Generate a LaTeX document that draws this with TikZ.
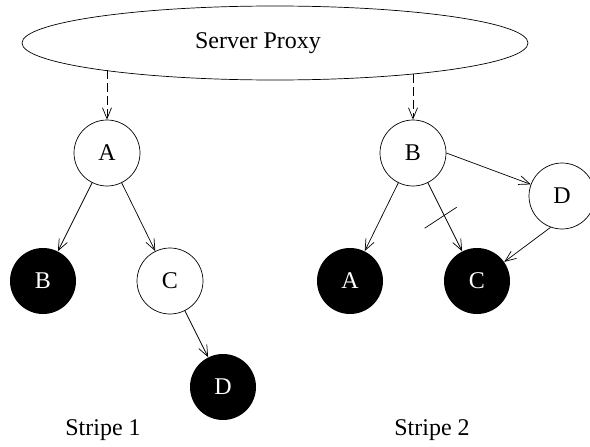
\documentclass[tikz,border=0pt]{standalone}
\usepackage{fontspec}
\setmainfont{Liberation Serif}
\usetikzlibrary{positioning, shapes.geometric, arrows.meta, calc}

\begin{document}
\begin{tikzpicture}[x=1pt, y=-1pt, on grid, line width=0.7pt,
  >={Straight Barb[length=11pt, width=9pt]},
  every node/.style={font=\fontsize{24pt}{28pt}\selectfont},
  whitenode/.style={circle, draw, inner sep=0pt, minimum size=66pt},
  blacknode/.style={circle, fill=black, text=white, inner sep=0pt, minimum size=66pt}]
  \useasboundingbox (0,0) rectangle (590,447);
  \node (proxy) [ellipse, draw, inner sep=0pt, minimum width=506pt, minimum height=74pt] at (275,43) {Server Proxy\hspace*{34pt}};
  \node (s1-a) [whitenode] at (107,153) {A};
  \node (s1-b) [blacknode, below left=128pt and 64pt of s1-a] {B};
  \node (s1-c) [whitenode, below right=128pt and 63pt of s1-a] {C};
  \node (s1-d) [blacknode, below right=106pt and 53pt of s1-c] {D};
  \node (s2-b) [whitenode] at (413,153) {B};
  \node (s2-a) [blacknode, below left=128pt and 63pt of s2-b] {A};
  \node (s2-c) [blacknode, below right=128pt and 64pt of s2-b] {C};
  \node (s2-d) [whitenode, below right=43pt and 149pt of s2-b] {D};
  \node (stripe1) at (103,430) {Stripe 1};
  \node (stripe2) at (432,430) {Stripe 2};
  \draw[->, dash pattern=on 9pt off 4pt] (proxy.189 -| s1-a) -- (s1-a);
  \draw[->, dash pattern=on 9pt off 4pt] (proxy.-13 -| s2-b) -- (s2-b);
  \draw[->] (s1-a) -- (s1-b);
  \draw[->] (s1-a) -- (s1-c);
  \draw[->] (s1-c) -- (s1-d);
  \draw[->] (s2-b) -- (s2-a);
  \draw[->] (s2-b) -- coordinate[pos=0.46] (cut) (s2-c);
  \draw[->] (s2-b.east) -- (s2-d);
  \draw[->] (s2-d.250) -- (s2-c.35);
  \draw ($(cut)+(-19,14)$) -- ($(cut)+(13,-7)$);
\end{tikzpicture}
\end{document}
